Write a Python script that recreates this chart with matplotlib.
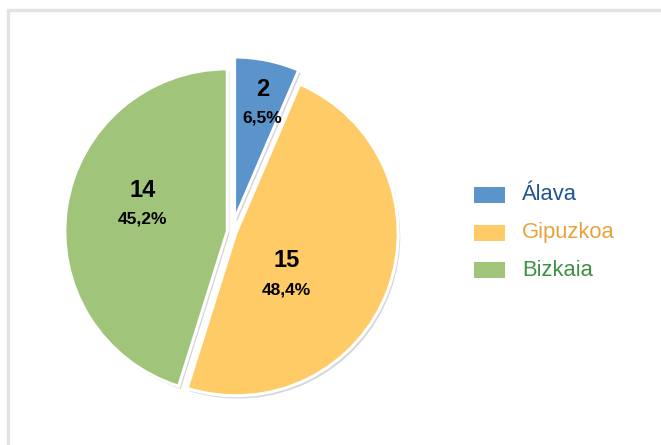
import numpy as np
import matplotlib
matplotlib.use("Agg")
import matplotlib.pyplot as plt
import matplotlib.patheffects as pe
from matplotlib.patches import Rectangle

# Data
provinces = ['Álava', 'Gipuzkoa', 'Bizkaia']
counts = [2, 15, 14]
percents = ['6,5%', '48,4%', '45,2%']

slice_colors = ['#5B93CB', '#FFCB66', '#A0C47A']
text_colors = ['#1F5591', '#E8A23C', '#3E9143']
explode = [0.08, 0.025, 0.03]
# label anchors relative to pie centre (data units)
label_xy = [(0.19, 0.80), (0.34, -0.27), (-0.56, 0.17)]

plt.rcParams['font.family'] = ['Liberation Sans', 'DejaVu Sans']

fig = plt.figure(figsize=(6.61, 4.45), dpi=100)
fig.patch.set_facecolor('white')

# chart frame (only top and left edges visible)
fig.add_artist(Rectangle((8 / 661, -0.1), 1.2, 1.1 - 10 / 445,
                         transform=fig.transFigure, fill=False,
                         edgecolor='#E3E3E3', linewidth=2.4))

ax = fig.add_axes([0.0605, 0.0472, 0.581, 0.863])
shadow = [pe.SimplePatchShadow(offset=(1.5, -2), shadow_rgbFace='#888888', alpha=0.35),
          pe.Normal()]
wedges, _ = ax.pie(counts, colors=slice_colors, explode=explode, startangle=90,
                   counterclock=False, radius=1.015,
                   wedgeprops=dict(edgecolor='white', linewidth=2.2, path_effects=shadow))
ax.set_xlim(-1.2, 1.2)
ax.set_ylim(-1.2, 1.2)
ax.set_aspect('equal')
ax.axis('off')

for (x, y), n, p in zip(label_xy, counts, percents):
    ax.text(x, y + 0.09, str(n), ha='center', va='center',
            fontsize=17, fontweight='bold', color='black')
    ax.text(x, y - 0.09, p, ha='center', va='center',
            fontsize=12.5, fontweight='bold', color='black')

# legend
for i, (name, c, tc) in enumerate(zip(provinces, slice_colors, text_colors)):
    yc = 1 - (195 + i * 37.5) / 445
    fig.add_artist(Rectangle((474 / 661, yc - 8 / 445), 31 / 661, 16 / 445,
                             transform=fig.transFigure, facecolor=c, edgecolor='none'))
    fig.text(522 / 661, yc, name, ha='left', va='center', fontsize=15.8, color=tc)

fig.savefig('out.png', dpi=100, facecolor='white')
